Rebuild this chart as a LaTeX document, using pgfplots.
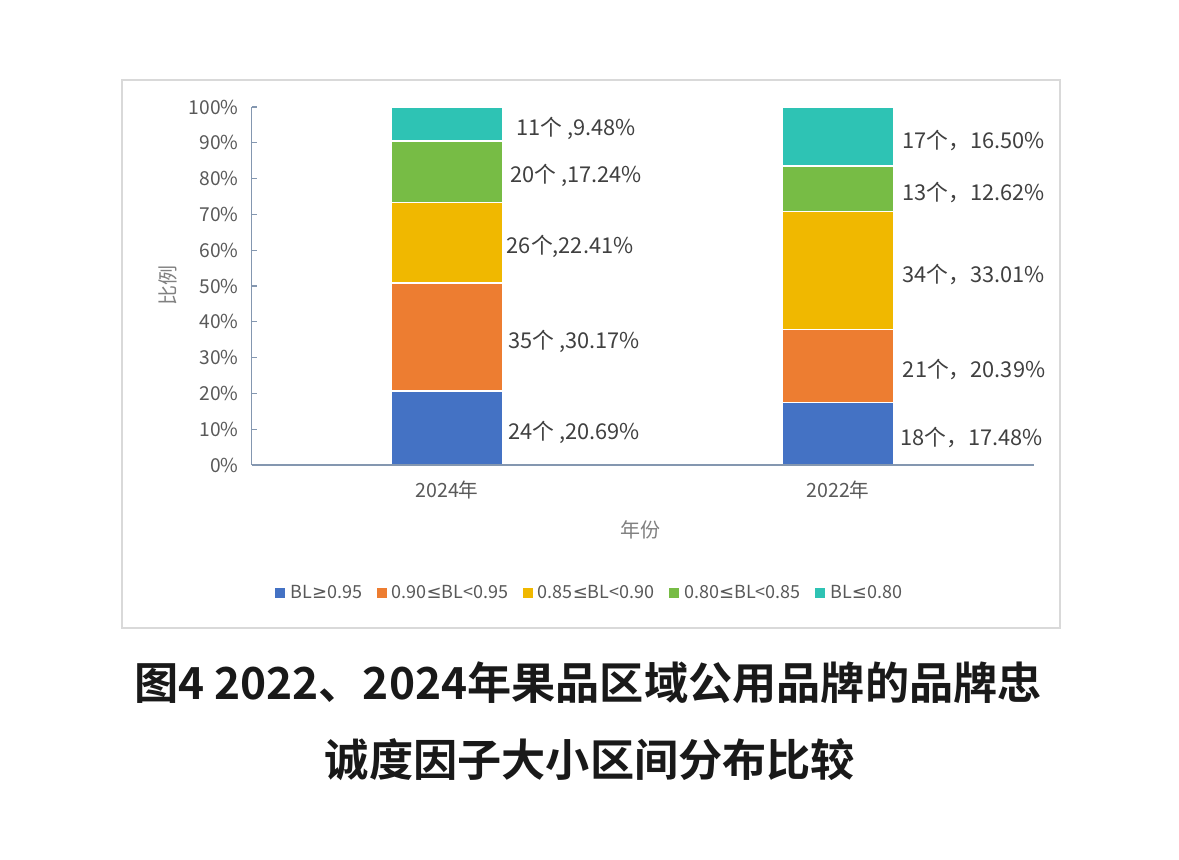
\documentclass[border=0pt]{standalone}
\usepackage{fontspec}
\setmainfont{Noto Sans CJK SC}[BoldFont={* Bold}]
\newfontfamily\symf{DejaVu Sans}
\usepackage{pgfplots}
\pgfplotsset{compat=1.18}

\definecolor{cBlue}{HTML}{4472C4}
\definecolor{cOrange}{HTML}{ED7D31}
\definecolor{cGold}{HTML}{F0B800}
\definecolor{cGreen}{HTML}{77BC45}
\definecolor{cTeal}{HTML}{2EC3B4}
\definecolor{axisc}{HTML}{8497B0}
\definecolor{tickc}{HTML}{595959}
\definecolor{labc}{HTML}{404040}

\newcommand{\sge}{{\symf ≥}}
\newcommand{\sle}{{\symf ≤}}

\tikzset{dl/.style={anchor=west, inner sep=0pt, yshift=-2pt,
    text=labc, font=\fontsize{10.9}{12}\selectfont}}

\begin{document}
\begin{tikzpicture}
% page: 1179x859 px at 0.5pt per px
\fill[white] (0pt,0pt) rectangle (589.5pt,429.5pt);
\draw[color=black!15, line width=0.6pt] (61pt,115.5pt) rectangle (530pt,389.5pt);

\begin{axis}[
    at={(125.75pt,197pt)}, anchor=south west,
    scale only axis,
    width=391pt, height=179pt,
    clip=false,
    axis on top,
    ybar stacked,
    bar width=56pt,
    xmin=-0.5, xmax=1.5,
    ymin=0, ymax=100,
    axis x line*=bottom,
    axis y line*=left,
    axis line style={-, color=axisc, line width=0.6pt},
    xtick={0,1},
    xticklabels={2024年,2022年},
    xtick style={draw=none},
    xticklabel style={font=\fontsize{9.8}{11}\selectfont, text=tickc, yshift=-4.5pt},
    ytick={0,10,20,30,40,50,60,70,80,90,100},
    yticklabels={0\%,10\%,20\%,30\%,40\%,50\%,60\%,70\%,80\%,90\%,100\%},
    yticklabel style={font=\fontsize{9.6}{11}\selectfont, text=tickc, xshift=-3pt},
    ytick style={color=axisc, line width=0.6pt},
    tick align=inside,
    major tick length=2.5pt,
    legend columns=5,
    legend style={at={(0.4329,-0.3575)}, anchor=center, draw=none, fill=none,
        font=\fontsize{9}{10}\selectfont, text=tickc,
        /tikz/every even column/.append style={column sep=4.6pt}},
    legend image code/.code={\fill[#1] (0pt,-2.8pt) rectangle (5.6pt,2.8pt);},
]
\addplot[fill=cBlue, draw=white, line width=0.6pt] coordinates {(0,20.69) (1,17.48)};
\addlegendentry{BL\sge0.95}
\addplot[fill=cOrange, draw=white, line width=0.6pt] coordinates {(0,30.17) (1,20.39)};
\addlegendentry{0.90\sle BL<0.95}
\addplot[fill=cGold, draw=white, line width=0.6pt] coordinates {(0,22.41) (1,33.01)};
\addlegendentry{0.85\sle BL<0.90}
\addplot[fill=cGreen, draw=white, line width=0.6pt] coordinates {(0,17.24) (1,12.62)};
\addlegendentry{0.80\sle BL<0.85}
\addplot[fill=cTeal, draw=white, line width=0.6pt] coordinates {(0,9.48) (1,16.50)};
\addlegendentry{BL\sle0.80}

% data labels, right of each segment
\node[dl] at (axis cs:0.156,10.345) {24个 ,20.69\%};
\node[dl] at (axis cs:0.156,35.775) {35个 ,30.17\%};
\node[dl] at (axis cs:0.152,62.065) {26个,22.41\%};
\node[dl] at (axis cs:0.161,81.89) {20个 ,17.24\%};
\node[dl] at (axis cs:0.176,95.25) {11个 ,9.48\%};
\node[dl] at (axis cs:1.159,8.74) {18个，17.48\%};
\node[dl] at (axis cs:1.165,27.675) {21个，20.39\%};
\node[dl] at (axis cs:1.164,54.375) {34个，33.01\%};
\node[dl] at (axis cs:1.164,77.19) {13个，12.62\%};
\node[dl] at (axis cs:1.164,91.75) {17个，16.50\%};
\end{axis}

% axis titles
\node[text=black!50, font=\fontsize{10}{12}\selectfont] at (320pt,164.5pt) {年份};
\node[text=black!50, font=\fontsize{10}{12}\selectfont, rotate=90] at (84pt,287pt) {比例};

% caption
\node[text=black!90, font=\fontsize{22.1}{26}\bfseries\selectfont] at (294pt,88pt)
    {图4 2022、2024年果品区域公用品牌的品牌忠};
\node[text=black!90, font=\fontsize{22.1}{26}\bfseries\selectfont] at (295pt,49.5pt)
    {诚度因子大小区间分布比较};
\end{tikzpicture}
\end{document}
